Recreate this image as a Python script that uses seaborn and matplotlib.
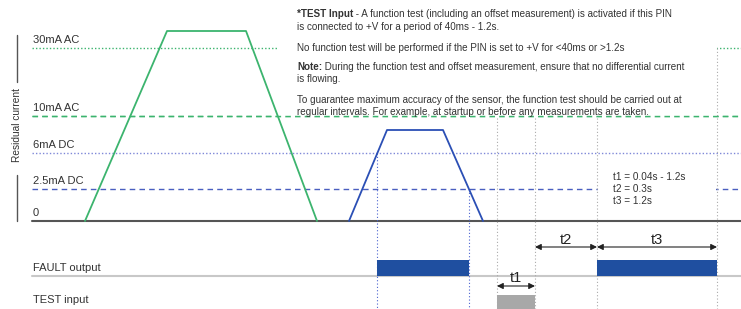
import numpy as np
import pandas as pd
import matplotlib
matplotlib.use("Agg")
import matplotlib.pyplot as plt
from matplotlib.patches import Rectangle
import seaborn as sns

# ---------------- data ----------------
level_labels = ["0", "2.5mA DC", "6mA DC", "10mA AC", "30mA AC"]
level_heights = [0, 32, 68, 105, 173]          # schematic height of each threshold
level_styles = ["-", (0, (4, 3)), (0, (1, 1.5)), (0, (4, 3)), (0, (1, 1.5))]
level_colors = ["#555555", "#4a5fc0", "#7f88d8", "#3cb46e", "#3cb46e"]

green_time = [85, 167, 246, 317]               # 30mA AC fault current
green_current = [0, 190, 190, 0]
blue_time = [349, 387, 443, 483]               # 6mA DC fault current
blue_current = [0, 91, 91, 0]

test_start, test_end = 497, 535                # TEST input pulse (t1)
t2_width = 62                                  # delay t2
t3_width = 120                                 # fault output t3

info_lines = [
    ("*TEST Input", " - A function test (including an offset measurement) is activated if this PIN"),
    ("", "is connected to +V for a period of 40ms - 1.2s."),
    ("", "No function test will be performed if the PIN is set to +V for <40ms or >1.2s"),
    ("Note:", " During the function test and offset measurement, ensure that no differential current"),
    ("", "is flowing."),
    ("", "To guarantee maximum accuracy of the sensor, the function test should be carried out at"),
    ("", "regular intervals. For example, at startup or before any measurements are taken."),
]
info_y = [207, 194, 173, 154, 142, 121, 109]
t_lines = ["t1 = 0.04s - 1.2s", "t2 = 0.3s", "t3 = 1.2s"]

# ---------------- figure ----------------
sns.set_theme(style="white")
plt.rcParams["font.family"] = ["Liberation Sans", "DejaVu Sans"]
fig = plt.figure(figsize=(7.41, 3.09), dpi=100)
ax = fig.add_axes([0, 0, 1, 1])
ax.set_xlim(0, 741)
ax.set_ylim(-88, 221)
ax.axis("off")

x0 = 32
fault_base = -55
fault_top = -39
test_top = -74

# threshold lines and labels
for lab, h, ls, c in zip(level_labels, level_heights, level_styles, level_colors):
    lw = 1.5 if h == 0 else 1.0
    ax.plot([x0, 741], [h, h], ls=ls, color=c, lw=lw, zorder=1)
    ax.text(33, h + 3, lab, fontsize=8, color="#333333", va="bottom", ha="left")

# white box behind the explanatory text
ax.add_patch(Rectangle((278, 104), 439, 130, facecolor="white", edgecolor="none", zorder=2))
ax.plot([x0, 741], [105, 105], ls=(0, (4, 3)), color="#3cb46e", lw=1.0, zorder=3)

# fault currents
df_g = pd.DataFrame({"t": green_time, "i": green_current})
df_b = pd.DataFrame({"t": blue_time, "i": blue_current})
sns.lineplot(data=df_g, x="t", y="i", sort=False, estimator=None, color="#3cb46e", lw=1.3, ax=ax, zorder=4)
sns.lineplot(data=df_b, x="t", y="i", sort=False, estimator=None, color="#2b4fb5", lw=1.3, ax=ax, zorder=4)
ax.set_xlabel(""); ax.set_ylabel("")
ax.axis("off")

# fault output switching points (rise above 6mA, fall below 2.5mA)
on1 = np.interp(level_heights[2], blue_current[:2], blue_time[:2])
off1 = np.interp(-level_heights[1], [-c for c in blue_current[2:]], blue_time[2:])
on2 = test_end + t2_width
off2 = on2 + t3_width

# fault output baseline & bars
ax.plot([x0, 741], [fault_base, fault_base], color="#c8c8c8", lw=1.5, zorder=1)
for a, b in [(on1, off1), (on2, off2)]:
    ax.bar(a, fault_top - fault_base, width=b - a, bottom=fault_base, align="edge",
           color="#1f4fa0", edgecolor="none", zorder=3)
ax.bar(test_start, test_top - (-95), width=test_end - test_start, bottom=-95, align="edge",
       color="#a8a8a8", edgecolor="none", zorder=3)

# vertical dotted guides
ax.plot([on1, on1], [level_heights[2], -88], ls=(0, (1, 2)), color="#4a63d0", lw=0.8, zorder=2)
ax.plot([off1, off1], [level_heights[1], -88], ls=(0, (1, 2)), color="#4a63d0", lw=0.8, zorder=2)
for xv in [test_start, test_end, on2]:
    ax.plot([xv, xv], [103, -88], ls=(0, (1, 2)), color="#aaaaaa", lw=0.8, zorder=2)
ax.plot([off2, off2], [level_heights[4], -88], ls=(0, (1, 2)), color="#aaaaaa", lw=0.8, zorder=2)

# t text box
ax.add_patch(Rectangle((on2 + 1, 8), t3_width - 2, 42, facecolor="white", edgecolor="none", zorder=1.5))
for k, s in enumerate(t_lines):
    ax.text(613, 44 - 12 * k, s, fontsize=7.2, color="#333333", va="center", ha="left", zorder=5)

# arrows
arrow_kw = dict(arrowstyle="<|-|>", color="#222222", lw=0.8, mutation_scale=9, shrinkA=0, shrinkB=0)
ax.annotate("", xy=(test_end, -26), xytext=(on2, -26), arrowprops=arrow_kw)
ax.annotate("", xy=(on2, -26), xytext=(off2, -26), arrowprops=arrow_kw)
ax.annotate("", xy=(test_start, -65), xytext=(test_end, -65), arrowprops=arrow_kw)
ax.text((test_end + on2) / 2, -19, "t2", fontsize=10.5, ha="center", va="center", color="#222222")
ax.text((on2 + off2) / 2, -19, "t3", fontsize=10.5, ha="center", va="center", color="#222222")
ax.text((test_start + test_end) / 2, -57, "t1", fontsize=10.5, ha="center", va="center", color="#222222")

# signal labels
ax.text(33, fault_base + 3, "FAULT output", fontsize=8, color="#333333", va="bottom", ha="left")
ax.text(33, -79, "TEST input", fontsize=8, color="#333333", va="center", ha="left")

# y label with lines
ax.text(17, 96, "Residual current", rotation=90, fontsize=7.3, color="#333333", va="center", ha="center")
ax.plot([17, 17], [186, 139], color="#555555", lw=1.0)
ax.plot([17, 17], [46, 0], color="#555555", lw=1.0)

# explanatory text
for (bold, rest), y in zip(info_lines, info_y):
    if bold:
        t = ax.text(297, y, bold, fontsize=7.15, fontweight="bold", color="#333333", va="center", ha="left", zorder=5)
        fig.canvas.draw()
        bb = t.get_window_extent()
        xe = ax.transData.inverted().transform((bb.x1, bb.y0))[0]
        ax.text(xe, y, rest, fontsize=7.15, color="#333333", va="center", ha="left", zorder=5)
    else:
        ax.text(297, y, rest, fontsize=7.15, color="#333333", va="center", ha="left", zorder=5)

fig.savefig("out.png", dpi=100)
